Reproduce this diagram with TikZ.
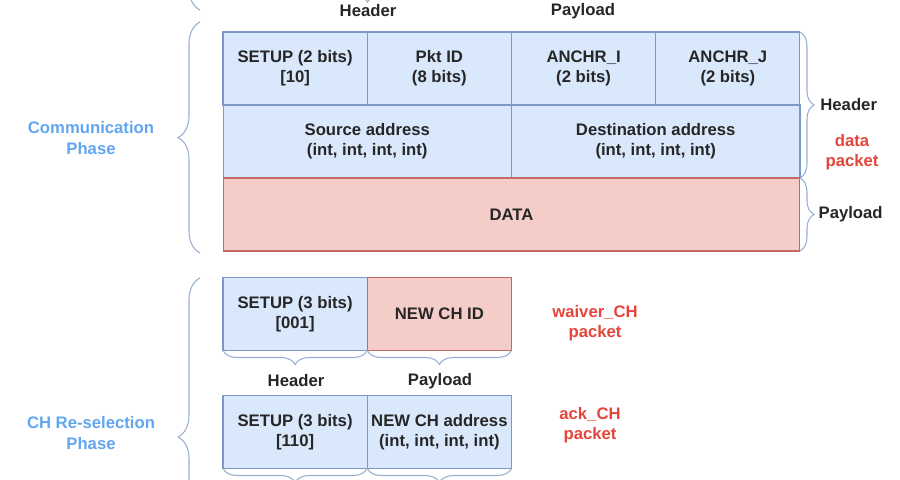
\documentclass[tikz,border=0pt]{standalone}
\usepackage{fontspec}
\setmainfont{Liberation Sans}
\usetikzlibrary{decorations.pathreplacing}
\definecolor{hdrfill}{HTML}{DAE8FC}
\definecolor{hdrline}{HTML}{7C98C8}
\definecolor{payfill}{HTML}{F4CDC9}
\definecolor{payline}{HTML}{C06A62}
\definecolor{pktred}{HTML}{E5453A}
\definecolor{phaseblue}{HTML}{62A6F0}
\definecolor{bracecol}{HTML}{9AAED2}

\begin{document}
\begin{tikzpicture}[x=0.02cm,y=-0.02cm,line width=0.6pt,
  font=\fontsize{9.5}{11.5}\selectfont\bfseries,
  hcell/.style={draw=hdrline,fill=hdrfill,minimum width=#1,minimum height=1.46cm,
    align=center,inner sep=0pt,outer sep=0pt,text=black!85},
  pcell/.style={hcell=#1,draw=payline,fill=payfill},
  curly/.style={draw=bracecol,decorate,decoration={brace,amplitude=#1}},
  curly/.default=8pt,
  lbl/.style={align=center,text=black!85},
  pkt/.style={align=center,text=pktred},
  phase/.style={align=center,text=phaseblue}]
\useasboundingbox (0,0) rectangle (900,480);
\clip (0,0) rectangle (900,480);

%previous packet, cut off at the top
\coordinate (prevR) at (512,-12);
\coordinate (prevL) at (223,-12);
\draw[curly] (prevR) -- (prevL);
\coordinate (prevB) at (200,10);
\coordinate (prevT) at (200,-300);
\draw[curly=12.5pt] (prevB) -- (prevT);
\node[lbl] (hdrP) at (368,11) {Header};
\node[lbl] (payP) at (583,11) {Payload};

%data packet
\foreach \nm/\i/\txt in {setupD/0/{SETUP (2 bits)\\{[10]}},pktid/1/{Pkt ID\\(8 bits)},
    anchI/2/{ANCHR\_I\\(2 bits)},anchJ/3/{ANCHR\_J\\(2 bits)}}{
\node[hcell=2.885cm] (\nm) at (295.1+144.25*\i,68.5) {\txt};
}
\node[hcell=5.77cm] (src) at (367.25,141.5) {Source address\\(int, int, int, int)};
\node[hcell=5.77cm] (dst) at (655.75,141.5) {Destination address\\(int, int, int, int)};
\node[pcell=11.54cm] (data) at (511.5,214.5) {DATA};

\draw[curly] (anchJ.north east) -- (dst.south east)
  node[midway,lbl,right=8pt] (hdrD) {Header};
\draw[curly] (data.north east) -- (data.south east)
  node[midway,lbl,right=7pt] (payD) {Payload};
\node[pkt] (dataPkt) at (852,152) {data\\packet};

%communication phase
\coordinate (comB) at (200,253);
\coordinate (comT) at (200,22);
\draw[curly=12.5pt] (comB) -- (comT);
\node[phase] (com) at (91,138) {Communication\\Phase};

%waiver_CH packet
\node[hcell=2.885cm] (setupW) at (295.1,314) {SETUP (3 bits)\\{[001]}};
\node[pcell=2.885cm] (newId) at (439.4,314) {NEW CH ID};
\draw[curly] (setupW.south east) -- (setupW.south west);
\draw[curly] (newId.south east) -- (newId.south west);
\node[lbl] (hdrW) at (296,381) {Header};
\node[lbl] (payW) at (440,381) {Payload};
\node[pkt] (waivPkt) at (595,323) {waiver\_CH\\packet};

%ack_CH packet
\node[hcell=2.885cm] (setupA) at (295.1,432) {SETUP (3 bits)\\{[110]}};
\node[hcell=2.885cm] (newAddr) at (439.4,432) {NEW CH address\\(int, int, int, int)};
\draw[curly] (setupA.south east) -- (setupA.south west);
\draw[curly] (newAddr.south east) -- (newAddr.south west);
\node[pkt] (ackPkt) at (590,425) {ack\_CH\\packet};

%CH re-selection phase
\coordinate (reB) at (200,596);
\coordinate (reT) at (200,278);
\draw[curly=12.5pt] (reB) -- (reT);
\node[phase] (resel) at (91,433) {CH Re-selection\\Phase};
\end{tikzpicture}
\end{document}
